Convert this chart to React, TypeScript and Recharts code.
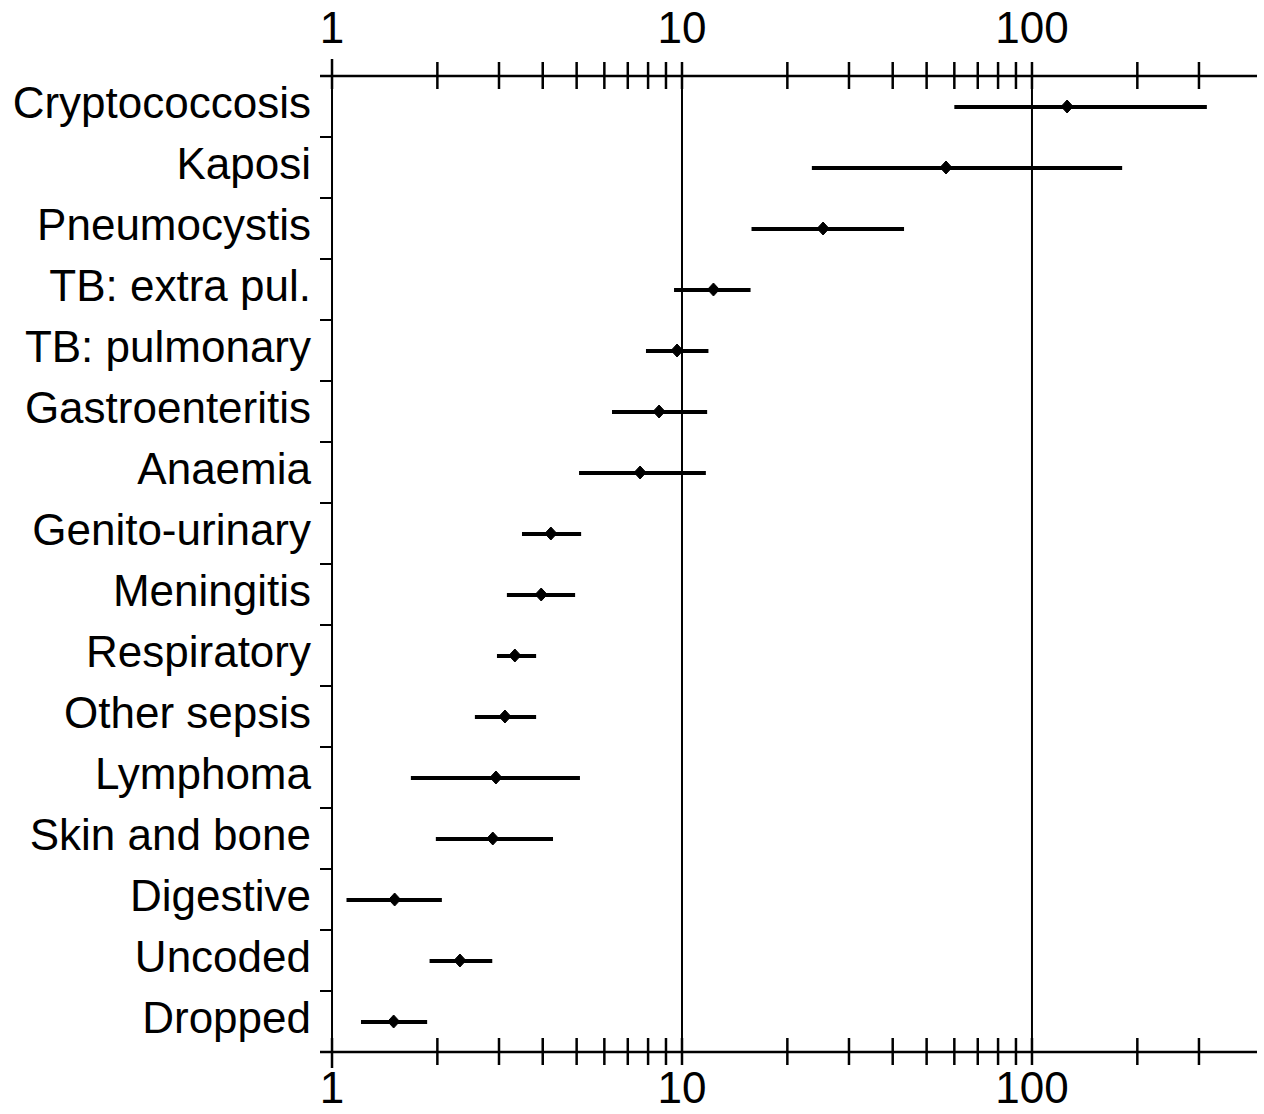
import React from 'react';
import { ComposedChart, Bar, Line, XAxis, YAxis, ReferenceLine } from 'recharts';

const categories = [
  'Cryptococcosis', 'Kaposi', 'Pneumocystis', 'TB: extra pul.', 'TB: pulmonary',
  'Gastroenteritis', 'Anaemia', 'Genito-urinary', 'Meningitis', 'Respiratory',
  'Other sepsis', 'Lymphoma', 'Skin and bone', 'Digestive', 'Uncoded', 'Dropped',
];
const estimates = [126, 56.8, 25.3, 12.3, 9.68, 8.6, 7.59, 4.22, 3.96, 3.33, 3.12, 2.94, 2.88, 1.51, 2.32, 1.5];
const lowerCI = [60, 23.5, 15.8, 9.49, 7.89, 6.31, 5.08, 3.49, 3.16, 2.96, 2.56, 1.68, 1.98, 1.1, 1.9, 1.21];
const upperCI = [316, 181, 43.1, 15.7, 11.9, 11.8, 11.7, 5.15, 4.95, 3.83, 3.83, 5.11, 4.28, 2.06, 2.87, 1.87];

const xTicks = [1, 2, 3, 4, 5, 6, 7, 8, 9, 10, 20, 30, 40, 50, 60, 70, 80, 90, 100, 200, 300];
const xTickLabels = [1, 10, 100];
const gridValues = [1, 10, 100];

const X_MIN = 0.924;
const X_MAX = 439.5;

const W = 1264;
const H = 1114;
const TOP_H = 76;
const BOTTOM_H = 62;
const Y_W = 320;
const PLOT_H = H - TOP_H - BOTTOM_H;
const BAND = PLOT_H / categories.length;
const FONT = '"Liberation Sans", Arial, Helvetica, sans-serif';
const FS = 44;

const data = categories.map((name, i) => ({
  name,
  est: estimates[i],
  ci: [lowerCI[i], upperCI[i]],
}));

const TopTick = (props: any) => {
  const { x, y, payload } = props;
  const v = payload.value;
  return (
    <g>
      <line x1={x} x2={x} y1={y - (v === 1 ? 17 : 14)} y2={y + 13} stroke="#000" strokeWidth={2.5} />
      {xTickLabels.includes(v) && (
        <text x={x} y={y - 33} textAnchor="middle" fontFamily={FONT} fontSize={FS} fill="#000">
          {v}
        </text>
      )}
    </g>
  );
};

const BottomTick = (props: any) => {
  const { x, y, payload } = props;
  const v = payload.value;
  return (
    <g>
      <line x1={x} x2={x} y1={y - 14} y2={y + (v === 1 ? 16 : 13)} stroke="#000" strokeWidth={2.5} />
      {xTickLabels.includes(v) && (
        <text x={x} y={y + 51} textAnchor="middle" fontFamily={FONT} fontSize={FS} fill="#000">
          {v}
        </text>
      )}
    </g>
  );
};

const CatTick = (props: any) => {
  const { x, y, payload, index } = props;
  return (
    <g>
      <text x={x} y={y + 11} textAnchor="end" fontFamily={FONT} fontSize={FS} fill="#000">
        {payload.value}
      </text>
      {index < categories.length - 1 && (
        <line x1={x + 9} x2={x + 21} y1={y + BAND / 2} y2={y + BAND / 2} stroke="#000" strokeWidth={2} />
      )}
    </g>
  );
};

const Diamond = (props: any) => {
  const { cx, cy } = props;
  if (cx == null || cy == null) return <g />;
  return (
    <polygon
      points={`${cx},${cy - 6.5} ${cx + 6},${cy} ${cx},${cy + 6.5} ${cx - 6},${cy}`}
      fill="#000"
      stroke="#000"
      strokeWidth={1}
    />
  );
};

export default function App() {
  return (
    <div style={{ position: 'absolute', left: 0, top: 0, background: '#fff' }}>
      <ComposedChart
        width={W}
        height={H}
        data={data}
        layout="vertical"
        margin={{ top: 0, right: W - 1257, bottom: 0, left: 0 }}
      >
        <XAxis
          xAxisId="top"
          orientation="top"
          type="number"
          scale="log"
          domain={[X_MIN, X_MAX]}
          allowDataOverflow
          ticks={xTicks}
          interval={0}
          height={TOP_H}
          tickSize={0}
          tickMargin={0}
          tickLine={false}
          axisLine={{ stroke: '#000', strokeWidth: 2.5 }}
          tick={<TopTick />}
        />
        <XAxis
          xAxisId="bottom"
          orientation="bottom"
          type="number"
          scale="log"
          domain={[X_MIN, X_MAX]}
          allowDataOverflow
          ticks={xTicks}
          interval={0}
          height={BOTTOM_H}
          tickSize={0}
          tickMargin={0}
          tickLine={false}
          axisLine={{ stroke: '#000', strokeWidth: 2.5 }}
          tick={<BottomTick />}
        />
        <YAxis
          type="category"
          dataKey="name"
          width={Y_W}
          axisLine={false}
          tickLine={false}
          tickSize={0}
          tickMargin={9}
          interval={0}
          tick={<CatTick />}
        />
        {gridValues.map((g) => (
          <ReferenceLine key={g} x={g} xAxisId="bottom" stroke="#000" strokeWidth={2} />
        ))}
        <Bar dataKey="ci" xAxisId="bottom" fill="#000" barSize={4} isAnimationActive={false} />
        <Line
          dataKey="est"
          xAxisId="top"
          stroke="none"
          dot={<Diamond />}
          activeDot={false}
          legendType="none"
          isAnimationActive={false}
        />
      </ComposedChart>
    </div>
  );
}
